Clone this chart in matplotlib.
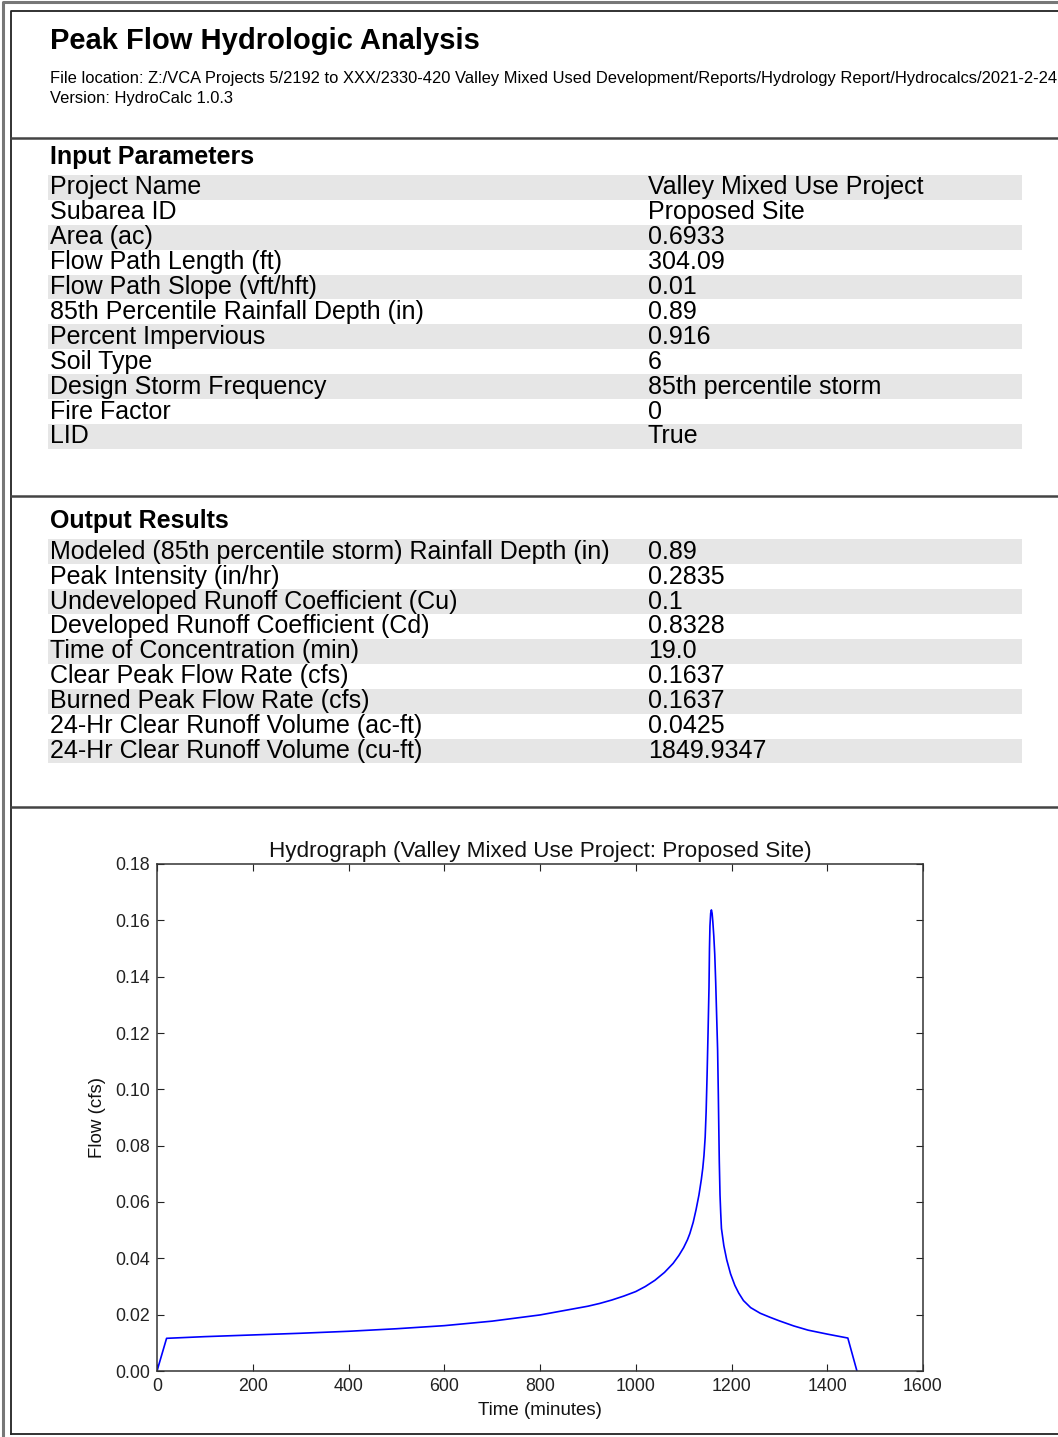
import numpy as np
import matplotlib
matplotlib.use("Agg")
import matplotlib.pyplot as plt
from matplotlib.patches import Rectangle

plt.rcParams['font.family'] = ['Liberation Sans', 'DejaVu Sans']

# ---- report data ----
report_title = "Peak Flow Hydrologic Analysis"
file_location = ("File location: Z:/VCA Projects 5/2192 to XXX/2330-420 Valley Mixed Used "
                 "Development/Reports/Hydrology Report/Hydrocalcs/2021-2-24")
version = "Version: HydroCalc 1.0.3"

input_labels = ["Project Name", "Subarea ID", "Area (ac)", "Flow Path Length (ft)",
                "Flow Path Slope (vft/hft)", "85th Percentile Rainfall Depth (in)",
                "Percent Impervious", "Soil Type", "Design Storm Frequency",
                "Fire Factor", "LID"]
input_values = ["Valley Mixed Use Project", "Proposed Site", "0.6933", "304.09", "0.01",
                "0.89", "0.916", "6", "85th percentile storm", "0", "True"]

output_labels = ["Modeled (85th percentile storm) Rainfall Depth (in)", "Peak Intensity (in/hr)",
                 "Undeveloped Runoff Coefficient (Cu)", "Developed Runoff Coefficient (Cd)",
                 "Time of Concentration (min)", "Clear Peak Flow Rate (cfs)",
                 "Burned Peak Flow Rate (cfs)", "24-Hr Clear Runoff Volume (ac-ft)",
                 "24-Hr Clear Runoff Volume (cu-ft)"]
output_values = ["0.89", "0.2835", "0.1", "0.8328", "19.0", "0.1637", "0.1637",
                 "0.0425", "1849.9347"]

# hydrograph
time_min = [0, 20, 100, 200, 300, 400, 500, 600, 700, 800, 900, 925, 950, 975, 1000,
            1020, 1040, 1060, 1078, 1090, 1100, 1108, 1113, 1120, 1126, 1132, 1137, 1140,
            1142.5, 1145, 1147, 1149, 1151, 1153, 1154, 1155, 1156.5, 1158, 1159.5,
            1161, 1163, 1165, 1167, 1169, 1171, 1172.5, 1173.5, 1174.5, 1176, 1177.5,
            1179, 1184, 1190, 1198, 1207, 1215, 1225, 1240, 1260, 1280, 1300, 1330,
            1360, 1400, 1443, 1462]
flow_cfs = [0.0, 0.0116, 0.0122, 0.0128, 0.0134, 0.0141, 0.0150, 0.0161, 0.0177, 0.0199,
            0.0230, 0.0240, 0.0252, 0.0266, 0.0282, 0.0300, 0.0322, 0.0350, 0.0382, 0.0410,
            0.0438, 0.0466, 0.0488, 0.0528, 0.0573, 0.0625, 0.0680, 0.0720, 0.0765, 0.0830,
            0.0920, 0.1050, 0.1200, 0.1363, 0.1500, 0.1580, 0.1625, 0.1637, 0.1625, 0.1595,
            0.1545, 0.1480, 0.1380, 0.1260, 0.1140, 0.0980, 0.0860, 0.0744, 0.0625, 0.0560,
            0.0506, 0.0445, 0.0395, 0.0345, 0.0304, 0.0277, 0.0250, 0.0225, 0.0205, 0.0191,
            0.0178, 0.0160, 0.0145, 0.0131, 0.0117, 0.0]

W, H = 1058, 1437
fig = plt.figure(figsize=(W / 100, H / 100), dpi=100)
bg = fig.add_axes([0, 0, 1, 1])
bg.set_xlim(0, W)
bg.set_ylim(H, 0)
bg.axis('off')

# page frames and section dividers
bg.plot([3, 3, W + 5], [H + 5, 2, 2], color='#777777', lw=2.2)
bg.plot([11, 11, W + 5], [1433.5, 11, 11], color='#222222', lw=1.3)
bg.plot([11, W + 5], [1433.5, 1433.5], color='#222222', lw=1.3)
for ysep in [137.5, 495.5, 807]:
    bg.plot([11, W + 5], [ysep, ysep], color='#444444', lw=1.8)

bg.text(50, 41, report_title, fontsize=21, fontweight='bold', va='center', ha='left')
bg.text(50, 79, file_location, fontsize=11.9, va='center', ha='left')
bg.text(50, 99, version, fontsize=11.9, va='center', ha='left')

row_h = 24.9
tfs = 18.0


def draw_table(header, header_y, top, labels, values):
    bg.text(50, header_y, header, fontsize=tfs, fontweight='bold', va='center', ha='left')
    for i, (lab, val) in enumerate(zip(labels, values)):
        y0 = top + i * row_h
        if i % 2 == 0:
            bg.add_patch(Rectangle((48, y0), 974, row_h, facecolor='#e6e6e6',
                                   edgecolor='none'))
        bg.text(50, y0 + row_h / 2, lab, fontsize=tfs, va='center', ha='left')
        bg.text(648, y0 + row_h / 2, val, fontsize=tfs, va='center', ha='left')


draw_table("Input Parameters", 157, 175, input_labels, input_values)
draw_table("Output Results", 521, 539.3, output_labels, output_values)

# hydrograph
ax = fig.add_axes([157 / W, 1 - 1371 / H, (923 - 157) / W, (1371 - 864) / H])
ax.plot(time_min, flow_cfs, color='blue', lw=1.2)
ax.set_xlim(0, 1600)
ax.set_ylim(0, 0.18)
ax.set_xticks(np.arange(0, 1601, 200))
ax.set_yticks(np.arange(0, 0.181, 0.02))
ax.set_yticklabels(['%.2f' % v for v in np.arange(0, 0.181, 0.02)])
ax.tick_params(direction='in', top=True, right=True, length=5, width=0.8,
               labelsize=12.8, pad=5, colors='#222222')
for s in ax.spines.values():
    s.set_color('#333333')
    s.set_linewidth(1.1)
ax.set_title("Hydrograph (Valley Mixed Use Project: Proposed Site)", fontsize=16.2,
             pad=5, color='#111111')
ax.set_xlabel("Time (minutes)", fontsize=13.5, color='#111111')
ax.set_ylabel("Flow (cfs)", fontsize=13.5, color='#111111')
ax.xaxis.set_label_coords(0.5, -0.062)
ax.yaxis.set_label_coords(-0.066, 0.5)

fig.savefig("out.png", dpi=100)
